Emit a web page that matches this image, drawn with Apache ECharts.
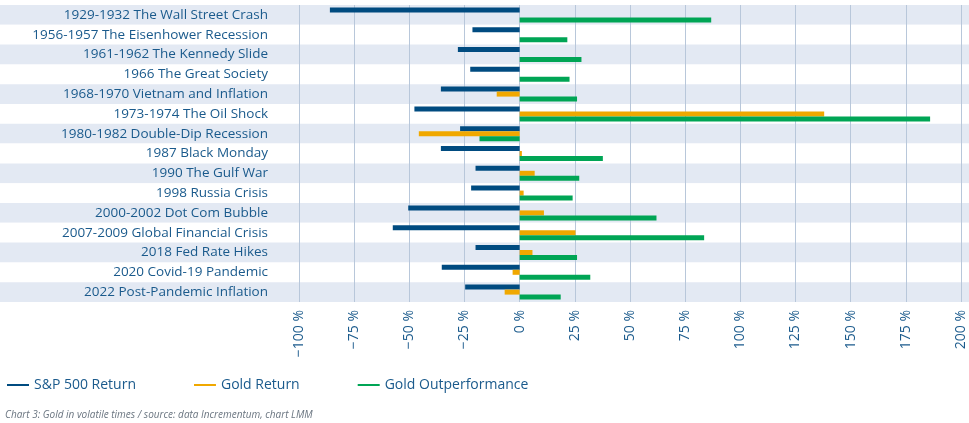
<!DOCTYPE html>
<html><head><meta charset="utf-8">
<script src="https://cdn.jsdelivr.net/npm/echarts@6/dist/echarts.min.js"></script>
<style>body{margin:0;background:#fff}#c{width:969px;height:423px}</style>
</head><body><div id="c"></div>
<script>
var categories = ['1929-1932 The Wall Street Crash','1956-1957 The Eisenhower Recession','1961-1962 The Kennedy Slide','1966 The Great Society','1968-1970 Vietnam and Inflation','1973-1974 The Oil Shock','1980-1982 Double-Dip Recession','1987 Black Monday','1990 The Gulf War','1998 Russia Crisis','2000-2002 Dot Com Bubble','2007-2009 Global Financial Crisis','2018 Fed Rate Hikes','2020 Covid-19 Pandemic','2022 Post-Pandemic Inflation'];
var spReturn = [-86,-21.4,-28,-22.4,-35.7,-47.7,-27,-35.7,-20,-22,-50.5,-57.5,-20,-35.3,-24.7];
var goldReturn = [0,0,0,0,-10.4,138,-45.7,1,6.8,1.8,11,25.3,5.8,-3.2,-6.8];
var goldOut = [86.8,21.6,28,22.6,26,186,-18.2,37.7,27,24,62,83.6,26,32,18.6];

var chart = echarts.init(document.getElementById('c'));
var txt = '#1a5a8c';
function s(name, data, color) {
  return {name: name, type: 'bar', data: data, barWidth: 5, barGap: '0%',
    itemStyle: {color: color}, emphasis: {disabled: true}};
}
chart.setOption({
  animation: false,
  textStyle: {fontFamily: 'Open Sans'},
  grid: [{left: 0, right: 0, top: 5, bottom: 121}, {left: 299, right: 8, top: 5, bottom: 121}],
  legend: {left: 2, top: 373, icon: 'rect', itemWidth: 22, itemHeight: 2, itemGap: 58,
    textStyle: {color: txt, fontSize: 14}},
  xAxis: [{type: 'value', gridIndex: 0, show: false},
    {type: 'value', gridIndex: 1, min: -100, max: 200, interval: 25,
    axisLabel: {rotate: 90, color: txt, fontSize: 14, formatter: function(v){return (v<0?'\u2212':'')+Math.abs(v)+' %';}},
    splitLine: {lineStyle: {color: '#b8c7da'}}, axisLine: {show: false}, axisTick: {show: false}}],
  yAxis: [{type: 'category', gridIndex: 0, data: categories, inverse: true,
    axisLabel: {show: false}, axisLine: {show: false}, axisTick: {show: false},
    splitArea: {show: true, areaStyle: {color: ['#e3e9f3', '#ffffff']}}},
    {type: 'category', gridIndex: 1, data: categories, inverse: true,
    axisLabel: {color: txt, fontSize: 13.5, margin: 31},
    axisLine: {show: false}, axisTick: {show: false}}],
  series: [s('S&P 500 Return', spReturn, '#004b80'), s('Gold Return', goldReturn, '#f0a800'), s('Gold Outperformance', goldOut, '#00a555')]
    .map(function(o){o.xAxisIndex = 1; o.yAxisIndex = 1; return o;}),
  graphic: [{type: 'text', left: 5, top: 410, style: {text: 'Chart 3: Gold in volatile times / source: data Incrementum, chart LMM',
    fill: '#6a7580', font: 'italic 10px Open Sans'}}]
});
</script></body></html>
